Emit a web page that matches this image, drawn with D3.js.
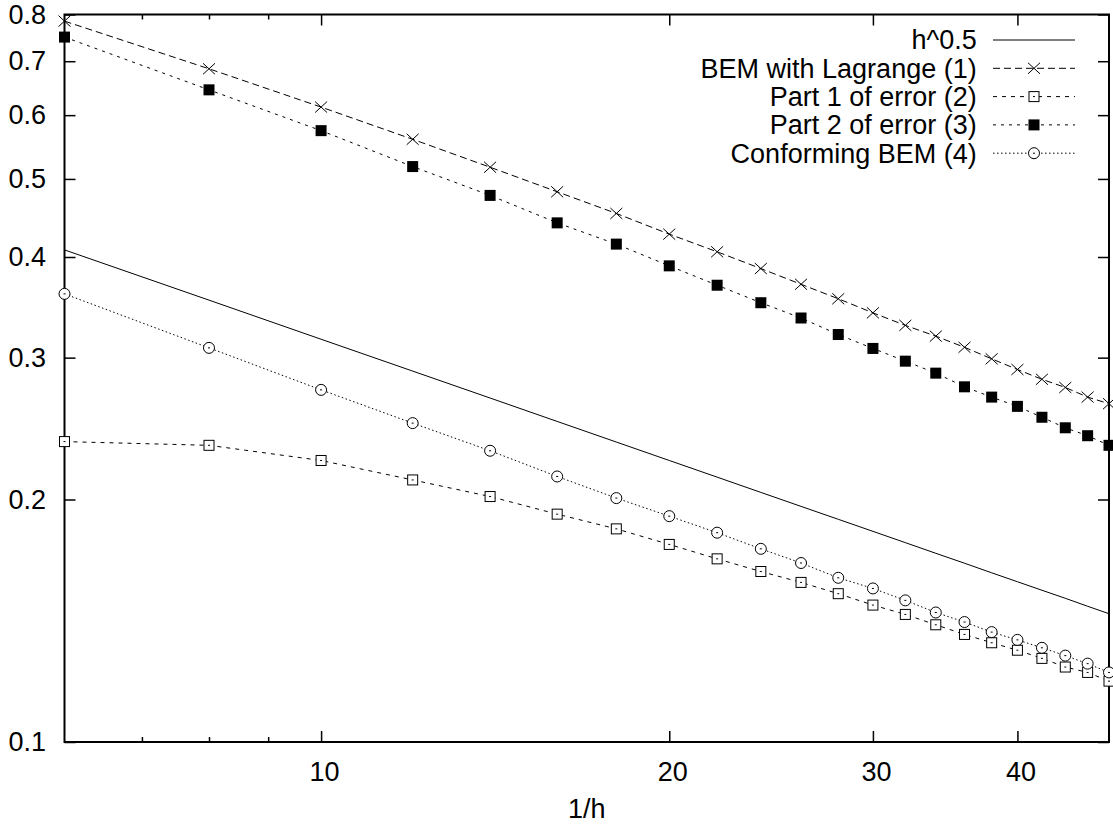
<!DOCTYPE html>
<html>
<head>
<meta charset="utf-8">
<script src="https://cdn.jsdelivr.net/npm/d3@7"></script>
<style>
  body { margin: 0; background: #fff; }
  text { font-family: "Liberation Sans", Arial, sans-serif; font-size: 27px; fill: #000; }
</style>
</head>
<body>
<div id="chart"></div>
<script>
// Chart data
const xValues = [6, 8, 10, 12, 14, 16, 18, 20, 22, 24, 26, 28, 30, 32, 34, 36, 38, 40, 42, 44, 46, 48];
const sqrtH = [0.4082, 0.3536, 0.3162, 0.2887, 0.2673, 0.2500, 0.2357, 0.2236, 0.2132, 0.2041, 0.1961,
  0.1890, 0.1826, 0.1768, 0.1715, 0.1667, 0.1622, 0.1581, 0.1543, 0.1508, 0.1474, 0.1443];
const bemLagrange = [0.785, 0.685, 0.614, 0.560, 0.517, 0.482, 0.453, 0.427, 0.406, 0.387, 0.370,
  0.355, 0.341, 0.329, 0.319, 0.309, 0.299, 0.290, 0.282, 0.2755, 0.268, 0.263];
const part1Error = [0.236, 0.2335, 0.2236, 0.2115, 0.2017, 0.1918, 0.1839, 0.1759, 0.1688, 0.1628, 0.1578,
  0.1528, 0.1479, 0.1440, 0.1398, 0.1360, 0.1328, 0.1300, 0.1270, 0.1239, 0.1220, 0.1190];
const part2Error = [0.750, 0.645, 0.574, 0.518, 0.477, 0.441, 0.415, 0.390, 0.369, 0.351, 0.336,
  0.3205, 0.308, 0.297, 0.287, 0.276, 0.268, 0.261, 0.253, 0.2455, 0.240, 0.2335];
const conformingBem = [0.360, 0.3085, 0.2736, 0.2488, 0.2299, 0.2136, 0.2008, 0.1907, 0.1819, 0.1737, 0.1668,
  0.1599, 0.1551, 0.1499, 0.1448, 0.1409, 0.1369, 0.1339, 0.1309, 0.1280, 0.1251, 0.1220];

const seriesNames = ["h^0.5", "BEM with Lagrange (1)", "Part 1 of error (2)", "Part 2 of error (3)", "Conforming BEM (4)"];
const xTickValues = [10, 20, 30, 40];
const xMinorTicks = [7, 8, 9];
const yTickValues = [0.1, 0.2, 0.3, 0.4, 0.5, 0.6, 0.7, 0.8];
const xLabel = "1/h";

// Set up the chart dimensions
const width = 1113, height = 829;
const plot = { left: 64.5, right: 1109, top: 14.5, bottom: 742 };

const svg = d3.select("#chart").append("svg")
  .attr("width", width)
  .attr("height", height);

const x = d3.scaleLog().domain([6, 48]).range([plot.left, plot.right]);
const y = d3.scaleLog().domain([0.1, 0.8]).range([plot.bottom, plot.top]);

// series styles: dash pattern + marker type
const series = [
  { name: seriesNames[0], values: sqrtH, dash: null, marker: null },
  { name: seriesNames[1], values: bemLagrange, dash: "7,4", marker: "cross" },
  { name: seriesNames[2], values: part1Error, dash: "4,5", marker: "boxempty" },
  { name: seriesNames[3], values: part2Error, dash: "3,5", marker: "boxfill" },
  { name: seriesNames[4], values: conformingBem, dash: "1.5,2.5", marker: "circle" }
];

// Axes (ticks drawn inward, mirrored on top/right)
function styleAxis(g) {
  g.select(".domain").remove();
  g.selectAll(".tick line").attr("stroke", "#000").attr("stroke-width", 1.5);
  g.selectAll("text").attr("font-size", null).attr("font-family", null);
}

svg.append("g")
  .attr("transform", `translate(0,${plot.bottom})`)
  .call(d3.axisBottom(x).tickValues(xTickValues).tickFormat(d3.format("d"))
    .tickSizeInner(-11).tickSizeOuter(0).tickPadding(20))
  .call(styleAxis)
  .call(g => g.selectAll("text").attr("dx", 3));

svg.append("g")
  .attr("transform", `translate(0,${plot.bottom})`)
  .call(d3.axisBottom(x).tickValues(xMinorTicks).tickFormat("").tickSizeInner(-5).tickSizeOuter(0))
  .call(styleAxis);

svg.append("g")
  .attr("transform", `translate(0,${plot.top})`)
  .call(d3.axisTop(x).tickValues(xTickValues).tickFormat("").tickSizeInner(-11).tickSizeOuter(0))
  .call(styleAxis);

svg.append("g")
  .attr("transform", `translate(0,${plot.top})`)
  .call(d3.axisTop(x).tickValues(xMinorTicks).tickFormat("").tickSizeInner(-5).tickSizeOuter(0))
  .call(styleAxis);

svg.append("g")
  .attr("transform", `translate(${plot.left},0)`)
  .call(d3.axisLeft(y).tickValues(yTickValues).tickFormat(d3.format(".1f"))
    .tickSizeInner(-11).tickSizeOuter(0).tickPadding(18.5))
  .call(styleAxis);

svg.append("g")
  .attr("transform", `translate(${plot.right},0)`)
  .call(d3.axisRight(y).tickValues(yTickValues).tickFormat("").tickSizeInner(-11).tickSizeOuter(0))
  .call(styleAxis);

// Frame
svg.append("rect")
  .attr("x", plot.left).attr("y", plot.top)
  .attr("width", plot.right - plot.left).attr("height", plot.bottom - plot.top)
  .attr("fill", "none").attr("stroke", "#000").attr("stroke-width", 2);

// x label
svg.append("text")
  .attr("x", (plot.left + plot.right) / 2)
  .attr("y", 818)
  .attr("text-anchor", "middle")
  .text(xLabel);

// Marker drawing
function drawMarker(g, type, cx, cy) {
  if (type === "cross") {
    g.append("path")
      .attr("d", `M${cx - 6},${cy - 5.5}L${cx + 6},${cy + 5.5}M${cx - 6},${cy + 5.5}L${cx + 6},${cy - 5.5}`)
      .attr("stroke", "#000").attr("stroke-width", 1).attr("fill", "none");
  } else if (type === "boxfill") {
    g.append("rect").attr("x", cx - 5.5).attr("y", cy - 5.5).attr("width", 11).attr("height", 11)
      .attr("fill", "#000");
  } else if (type === "boxempty") {
    g.append("rect").attr("x", cx - 5).attr("y", cy - 5).attr("width", 10).attr("height", 10)
      .attr("fill", "#fff").attr("stroke", "#000").attr("stroke-width", 1);
    g.append("line").attr("x1", cx - 1).attr("x2", cx + 1).attr("y1", cy).attr("y2", cy)
      .attr("stroke", "#000").attr("stroke-width", 1);
  } else if (type === "circle") {
    g.append("circle").attr("cx", cx).attr("cy", cy).attr("r", 5.5)
      .attr("fill", "#fff").attr("stroke", "#000").attr("stroke-width", 1);
    g.append("line").attr("x1", cx - 1).attr("x2", cx + 1).attr("y1", cy).attr("y2", cy)
      .attr("stroke", "#000").attr("stroke-width", 1);
  }
}

const line = d3.line()
  .x(d => x(d[0]))
  .y(d => y(d[1]));

// Lines and points
series.forEach(s => {
  const pts = xValues.map((xv, i) => [xv, s.values[i]]);
  svg.append("path")
    .datum(pts)
    .attr("d", line)
    .attr("fill", "none")
    .attr("stroke", "#000")
    .attr("stroke-width", 1)
    .attr("stroke-dasharray", s.dash);
  if (s.marker) {
    const g = svg.append("g");
    pts.forEach(p => drawMarker(g, s.marker, x(p[0]), y(p[1])));
  }
});

// Legend
const legend = { textRight: 976.7, lineStart: 993, lineEnd: 1075, top: 40, step: 28.3 };
series.forEach((s, i) => {
  const ly = legend.top + i * legend.step;
  svg.append("text")
    .attr("x", legend.textRight)
    .attr("y", ly)
    .attr("dy", "0.35em")
    .attr("text-anchor", "end")
    .text(s.name);
  svg.append("line")
    .attr("x1", legend.lineStart).attr("x2", legend.lineEnd)
    .attr("y1", ly).attr("y2", ly)
    .attr("stroke", "#000").attr("stroke-width", 1)
    .attr("stroke-dasharray", s.dash);
  if (s.marker) {
    const g = svg.append("g");
    drawMarker(g, s.marker, (legend.lineStart + legend.lineEnd) / 2, ly);
  }
});
</script>
</body>
</html>
